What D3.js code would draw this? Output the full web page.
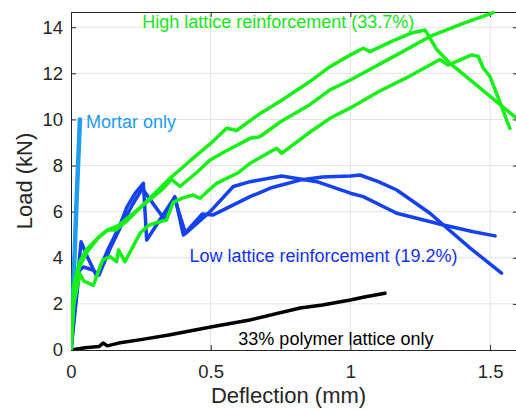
<!DOCTYPE html>
<html>
<head>
<meta charset="utf-8">
<script src="https://cdn.jsdelivr.net/npm/d3@7"></script>
<style>
  body { margin: 0; background: #fff; }
  svg { display: block; font-family: "Liberation Sans", Arial, sans-serif; }
</style>
</head>
<body>
<div id="chart"></div>
<script>

// tick values
var xTicks = [0, 0.5, 1, 1.5];
var xTickLabels = ['0', '0.5', '1', '1.5'];
var yTicks = [0, 2, 4, 6, 8, 10, 12, 14];

// deflection (mm), load (kN)
var mortarOnly = [[0, 0], [0.01, 3.2], [0.02, 6.5], [0.032, 10]];

var polymerOnly = [[0, 0], [0.05, 0.1], [0.1, 0.15], [0.115, 0.3], [0.13, 0.18], [0.17, 0.3],
  [0.25, 0.45], [0.35, 0.65], [0.5, 1.0], [0.64, 1.3], [0.82, 1.82], [0.9, 1.95],
  [1.0, 2.17], [1.05, 2.3], [1.124, 2.46]];

var lowA = [[0, 0], [0.036, 4.7], [0.06, 4.0], [0.092, 3.2], [0.13, 4.3], [0.173, 5.35],
  [0.2, 6.2], [0.23, 6.8], [0.259, 7.23], [0.271, 4.77], [0.372, 6.65], [0.402, 4.99],
  [0.47, 5.9], [0.509, 5.86], [0.641, 6.65], [0.72, 7.05], [0.82, 7.37], [0.9, 7.5],
  [1.0, 7.55], [1.034, 7.59], [1.1, 7.3], [1.166, 6.94], [1.285, 5.93], [1.333, 5.42],
  [1.43, 4.41], [1.541, 3.33]];

var lowB = [[0, 0], [0.03, 3.45], [0.045, 3.6], [0.078, 3.47], [0.1, 3.25], [0.14, 4.4],
  [0.18, 5.4], [0.22, 6.3], [0.255, 7.0], [0.336, 5.64], [0.37, 6.6], [0.41, 5.05],
  [0.498, 6.0], [0.581, 7.09], [0.641, 7.3], [0.754, 7.55], [0.88, 7.3], [1.0, 6.8],
  [1.046, 6.65], [1.166, 5.93], [1.333, 5.42], [1.44, 5.13], [1.518, 4.95]];

var highA = [[0, 0], [0.01, 2.5], [0.03, 3.6], [0.06, 4.3], [0.1, 4.9], [0.13, 5.2],
  [0.16, 5.2], [0.2, 5.6], [0.25, 6.2], [0.3, 6.8], [0.35, 7.4], [0.402, 7.95],
  [0.45, 8.45], [0.5, 8.96], [0.557, 9.62], [0.593, 9.52], [0.67, 10.2], [0.75, 10.8],
  [0.85, 11.6], [0.927, 12.29], [1.0, 12.8], [1.046, 13.09], [1.07, 12.94], [1.15, 13.4],
  [1.22, 13.75], [1.267, 13.88], [1.31, 13.02], [1.356, 12.44], [1.595, 10.05]];

var highB = [[0, 0], [0.01, 2.8], [0.03, 3.8], [0.055, 4.35], [0.075, 4.6], [0.1, 4.9],
  [0.13, 5.2], [0.17, 5.4], [0.22, 5.9], [0.28, 6.5], [0.33, 7.0], [0.36, 7.4],
  [0.39, 7.09], [0.45, 7.7], [0.498, 8.24], [0.55, 8.6], [0.641, 9.18], [0.676, 9.25],
  [0.75, 9.9], [0.85, 10.6], [0.927, 11.28], [1.0, 11.71], [1.166, 12.8], [1.285, 13.6],
  [1.404, 14.17], [1.512, 14.63]];

var highC = [[0, 0], [0.01, 2.0], [0.032, 3.3], [0.045, 3.0], [0.08, 2.8], [0.113, 3.9],
  [0.14, 4.05], [0.163, 3.83], [0.17, 4.34], [0.193, 3.83], [0.247, 5.06], [0.277, 5.4],
  [0.3, 5.5], [0.342, 5.64], [0.366, 6.4], [0.4, 6.6], [0.438, 6.72], [0.462, 6.58],
  [0.521, 7.23], [0.6, 7.7], [0.641, 8.1], [0.736, 8.75], [0.754, 8.53], [0.85, 9.4],
  [0.927, 10.05], [1.0, 10.5], [1.1, 11.2], [1.2, 11.8], [1.32, 12.6], [1.35, 12.36],
  [1.434, 12.8], [1.458, 12.73], [1.476, 12.22], [1.5, 11.86], [1.571, 9.61]];

var margin = {top: 12, right: -2, bottom: 60, left: 71},
    width = 516 - margin.left - margin.right,
    height = 410 - margin.top - margin.bottom;

var svg = d3.select("#chart")
  .append("svg")
    .attr("width", 516)
    .attr("height", 410)
  .append("g")
    .attr("transform", "translate(" + margin.left + "," + margin.top + ")");

var x = d3.scaleLinear()
  .domain([0, 1.6])
  .range([0, width]);

var y = d3.scaleLinear()
  .domain([0, 14.66])
  .range([height, 0]);

var axisColor = "#262626";

// grid
svg.append("g")
  .selectAll("line")
  .data(xTicks.filter(function(d) { return d > 0; }))
  .enter()
  .append("line")
    .attr("x1", function(d) { return x(d); })
    .attr("x2", function(d) { return x(d); })
    .attr("y1", 0)
    .attr("y2", height)
    .attr("stroke", "#e3e3e3");

svg.append("g")
  .selectAll("line")
  .data(yTicks.filter(function(d) { return d > 0; }))
  .enter()
  .append("line")
    .attr("x1", 0)
    .attr("x2", width)
    .attr("y1", function(d) { return y(d); })
    .attr("y2", function(d) { return y(d); })
    .attr("stroke", "#e3e3e3");

// axes (ticks point inward)
var xAxis = svg.append("g")
  .attr("transform", "translate(0," + height + ")")
  .call(d3.axisBottom(x).tickValues(xTicks)
    .tickFormat(function(d, i) { return xTickLabels[i]; })
    .tickSizeInner(-5).tickSizeOuter(0).tickPadding(15));

var yAxis = svg.append("g")
  .call(d3.axisLeft(y).tickValues(yTicks).tickFormat(d3.format("d"))
    .tickSizeInner(-5).tickSizeOuter(0).tickPadding(8));

var xTop = svg.append("g")
  .call(d3.axisTop(x).tickValues(xTicks).tickFormat("")
    .tickSizeInner(-5).tickSizeOuter(0));

var yRight = svg.append("g")
  .attr("transform", "translate(" + width + ",0)")
  .call(d3.axisRight(y).tickValues(yTicks).tickFormat("")
    .tickSizeInner(-5).tickSizeOuter(0));

[xAxis, yAxis, xTop, yRight].forEach(function(a) {
  a.selectAll("path").attr("stroke", axisColor);
  a.selectAll("line").attr("stroke", axisColor);
  a.selectAll("text")
    .attr("fill", axisColor)
    .style("font-size", "18.5px")
    .style("font-family", "'Liberation Sans', Arial, sans-serif");
});

// axis titles
svg.append("text")
  .attr("x", width / 2 - 6)
  .attr("y", height + 53)
  .attr("text-anchor", "middle")
  .attr("fill", axisColor)
  .style("font-size", "22px")
  .text("Deflection (mm)");

svg.append("text")
  .attr("transform", "rotate(-90)")
  .attr("x", 0 - (height / 2))
  .attr("y", -39)
  .attr("text-anchor", "middle")
  .attr("fill", axisColor)
  .style("font-size", "22px")
  .text("Load (kN)");

// curves
var clip = svg.append("clipPath").attr("id", "plotclip")
  .append("rect").attr("width", width).attr("height", height + 3).attr("y", -3);

var line = d3.line()
  .x(function(d) { return x(d[0]); })
  .y(function(d) { return y(d[1]); });

var series = [
  {data: polymerOnly, color: "#000000", w: 3.5},
  {data: mortarOnly, color: "#1e9cf0", w: 4.5},
  {data: lowA, color: "#1442f2", w: 3.5},
  {data: lowB, color: "#1442f2", w: 3.5},
  {data: highA, color: "#17f017", w: 3.5},
  {data: highB, color: "#17f017", w: 3.5},
  {data: highC, color: "#17f017", w: 3.5}
];

svg.append("g")
  .attr("clip-path", "url(#plotclip)")
  .selectAll(".myLine")
  .data(series)
  .enter()
  .append("path")
    .attr("class", "myLine")
    .attr("d", function(d) { return line(d.data); })
    .attr("fill", "none")
    .attr("stroke", function(d) { return d.color; })
    .attr("stroke-width", function(d) { return d.w; })
    .attr("stroke-linejoin", "round")
    .attr("stroke-linecap", "round");

// annotations
var notes = [
  {text: "Mortar only", x: 0.054, y: 9.65, color: "#1e9cf0"},
  {text: "High lattice reinforcement (33.7%)", x: 0.255, y: 13.97, color: "#17e617"},
  {text: "Low lattice reinforcement (19.2%)", x: 0.424, y: 3.83, color: "#1432ee"},
  {text: "33% polymer lattice only", x: 0.599, y: 0.22, color: "#000000"}
];

svg.selectAll(".note")
  .data(notes)
  .enter()
  .append("text")
    .attr("class", "note")
    .attr("x", function(d) { return x(d.x); })
    .attr("y", function(d) { return y(d.y); })
    .attr("fill", function(d) { return d.color; })
    .style("font-size", "18px")
    .text(function(d) { return d.text; });

</script>
</body>
</html>
